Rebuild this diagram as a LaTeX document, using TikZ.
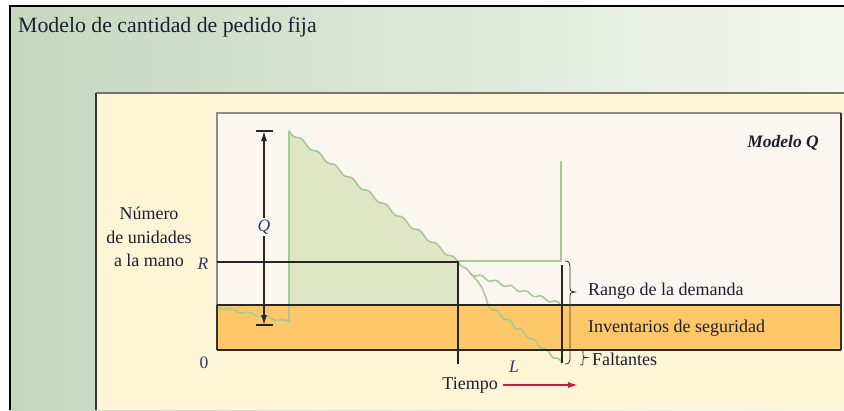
\documentclass[tikz,border=0pt]{standalone}
\usepackage{fontspec}
\setmainfont{Liberation Serif}
\usetikzlibrary{arrows.meta}
\definecolor{outerL}{RGB}{198,215,190}
\definecolor{outerR}{RGB}{244,247,240}
\definecolor{cream}{RGB}{254,244,214}
\definecolor{pinkbg}{RGB}{252,246,240}
\definecolor{orangeband}{RGB}{254,200,104}
\definecolor{gfill}{RGB}{222,230,198}
\definecolor{gline}{RGB}{165,202,150}
\definecolor{txt}{RGB}{30,30,50}
\definecolor{mathc}{RGB}{40,60,110}
\definecolor{tarrowc}{RGB}{195,30,70}
\tikzset{
  lbl/.style={inner sep=0pt, text=txt, font=\fontsize{18}{23.5}\selectfont},
  mlbl/.style={inner sep=1.5pt, text=mathc, font=\fontsize{17.5}{23.5}\selectfont\itshape},
  gcurve/.style={draw=gline, line width=1.6pt, line join=round},
  blk/.style={draw=black!85, line width=1.2pt},
  brace/.style={draw=black!80, line width=0.8pt},
}
\begin{document}
\begin{tikzpicture}[x=1pt,y=-1pt]
\useasboundingbox (0,0) rectangle (844,410);
% outer green panel
\fill[white] (0,0) rectangle (844,410);
\fill[left color=outerL, right color=outerR] (10,6) rectangle (844,410);
\draw[black, line width=2.5pt] (10,410) -- (10,6) -- (844,6);
% cream panel
\fill[cream] (96,93) rectangle (844,410);
\draw[black!55, line width=1.5pt] (96,93) -- (844,93);
\draw[black!80, line width=2pt] (96,93) -- (96,410);
% chart box
\fill[pinkbg] (217,113) rectangle (841,350);
\fill[orangeband] (217,305) rectangle (841,350);
% green filled area
\fill[gfill] (289,305) -- (289,131) -- plot[domain=0:1,samples=150] ({289+169*\x},{131+131*\x+1.8*sin(3600*\x)}) -- (458,305) -- cycle;
% green curves
\draw[gcurve] plot[domain=0:1,samples=60] ({218+71*\x},{307+15*\x+1.2*sin(1440*\x)}) -- (289,131)
  -- plot[domain=0:1,samples=150] ({289+169*\x},{131+131*\x+1.8*sin(3600*\x)})
  -- plot[domain=0:1,samples=20] ({458+12*\x},{262+11*\x+1*sin(360*\x)});
\draw[gcurve] (470,273) -- plot[domain=0:1,samples=100] ({470+90*\x},{273+31*\x+1.5*sin(2160*\x)});
\draw[gcurve] (470,273) .. controls (480,282) and (485,292) .. (488,305)
  -- plot[domain=0:1,samples=100] ({488+74*\x},{305+58*\x+1.6*sin(2160*\x)});
\draw[gcurve] (458,261) -- (561,261) -- (561,161);
% box borders
\draw[black!45, line width=2pt] (217,350) -- (217,113) -- (841,113);
\draw[black!80, line width=1.4pt] (841,113) -- (841,350);
\draw[blk] (217,305) -- (841,305);
\draw[blk] (217,350) -- (841,350);
\draw[black!80, line width=1.5pt] (217,305) -- (217,350);
% reorder point and lead time lines
\coordinate (rstart) at (217,262);
\coordinate (rcorner) at (458,262);
\coordinate (rbottom) at (458,364);
\draw[blk] (rstart) -- (rcorner) -- (rbottom);
\coordinate (ltop) at (562,265);
\coordinate (lbot) at (562,363);
\draw[blk] (ltop) -- (lbot);
% Q arrow
\node[mlbl, fill=pinkbg] (q) at (264,227) {Q};
\coordinate (qtop) at (264,131);
\coordinate (qbot) at (264,325);
\draw[black!85, line width=1.1pt, -{Latex[length=10pt,width=6pt]}] (q) -- (qtop);
\draw[black!85, line width=1.1pt, -{Latex[length=10pt,width=6pt]}] (q) -- (qbot);
\draw[black!85, line width=1.4pt] ([xshift=-8.5pt]qtop) -- ([xshift=8.5pt]qtop);
\draw[black!85, line width=1.4pt] ([xshift=-8.5pt]qbot) -- ([xshift=8.5pt]qbot);
% braces
\draw[brace] (565,261) .. controls (569,261) and (570,263) .. (570,266) -- (570,288)
  .. controls (570,291) .. (575,292) .. controls (570,293) .. (570,296) -- (570,359)
  .. controls (570,362) and (569,364) .. (565,364);
\draw[brace] (580,350) .. controls (583,350) .. (583,353) -- (583,355)
  .. controls (583,357) .. (587,357.5) .. controls (583,358) .. (583,360) -- (583,362)
  .. controls (583,365) .. (580,365);
% texts
\node[lbl, anchor=west, font=\fontsize{21.8}{26}\selectfont] (title) at (18,27) {Modelo de cantidad de pedido fija};
\node[lbl, anchor=east, font=\fontsize{17.5}{23.5}\selectfont\bfseries\itshape] (modq) at (819,143) {Modelo Q};
\node[lbl, align=center] (ylabel) at (149,237) {Número\\de unidades\\a la mano};
\node[mlbl] (rlbl) at (203,264) {R};
\node[mlbl, font=\fontsize{17.5}{23.5}\selectfont] (zero) at (204,363) {0};
\node[mlbl] (llbl) at (514,367) {L};
\node[lbl, anchor=west] (rango) at (588,291) {Rango de la demanda};
\node[lbl, anchor=west] (invseg) at (588,328) {Inventarios de seguridad};
\node[lbl, anchor=west] (falt) at (592,359) {Faltantes};
\node[lbl, anchor=east] (tiempo) at (498,385) {Tiempo};
\coordinate (tend) at (578,385);
\draw[tarrowc, line width=1.5pt, -{Latex[length=10pt,width=6pt]}] ([xshift=5pt]tiempo.east) -- (tend);
\end{tikzpicture}
\end{document}
